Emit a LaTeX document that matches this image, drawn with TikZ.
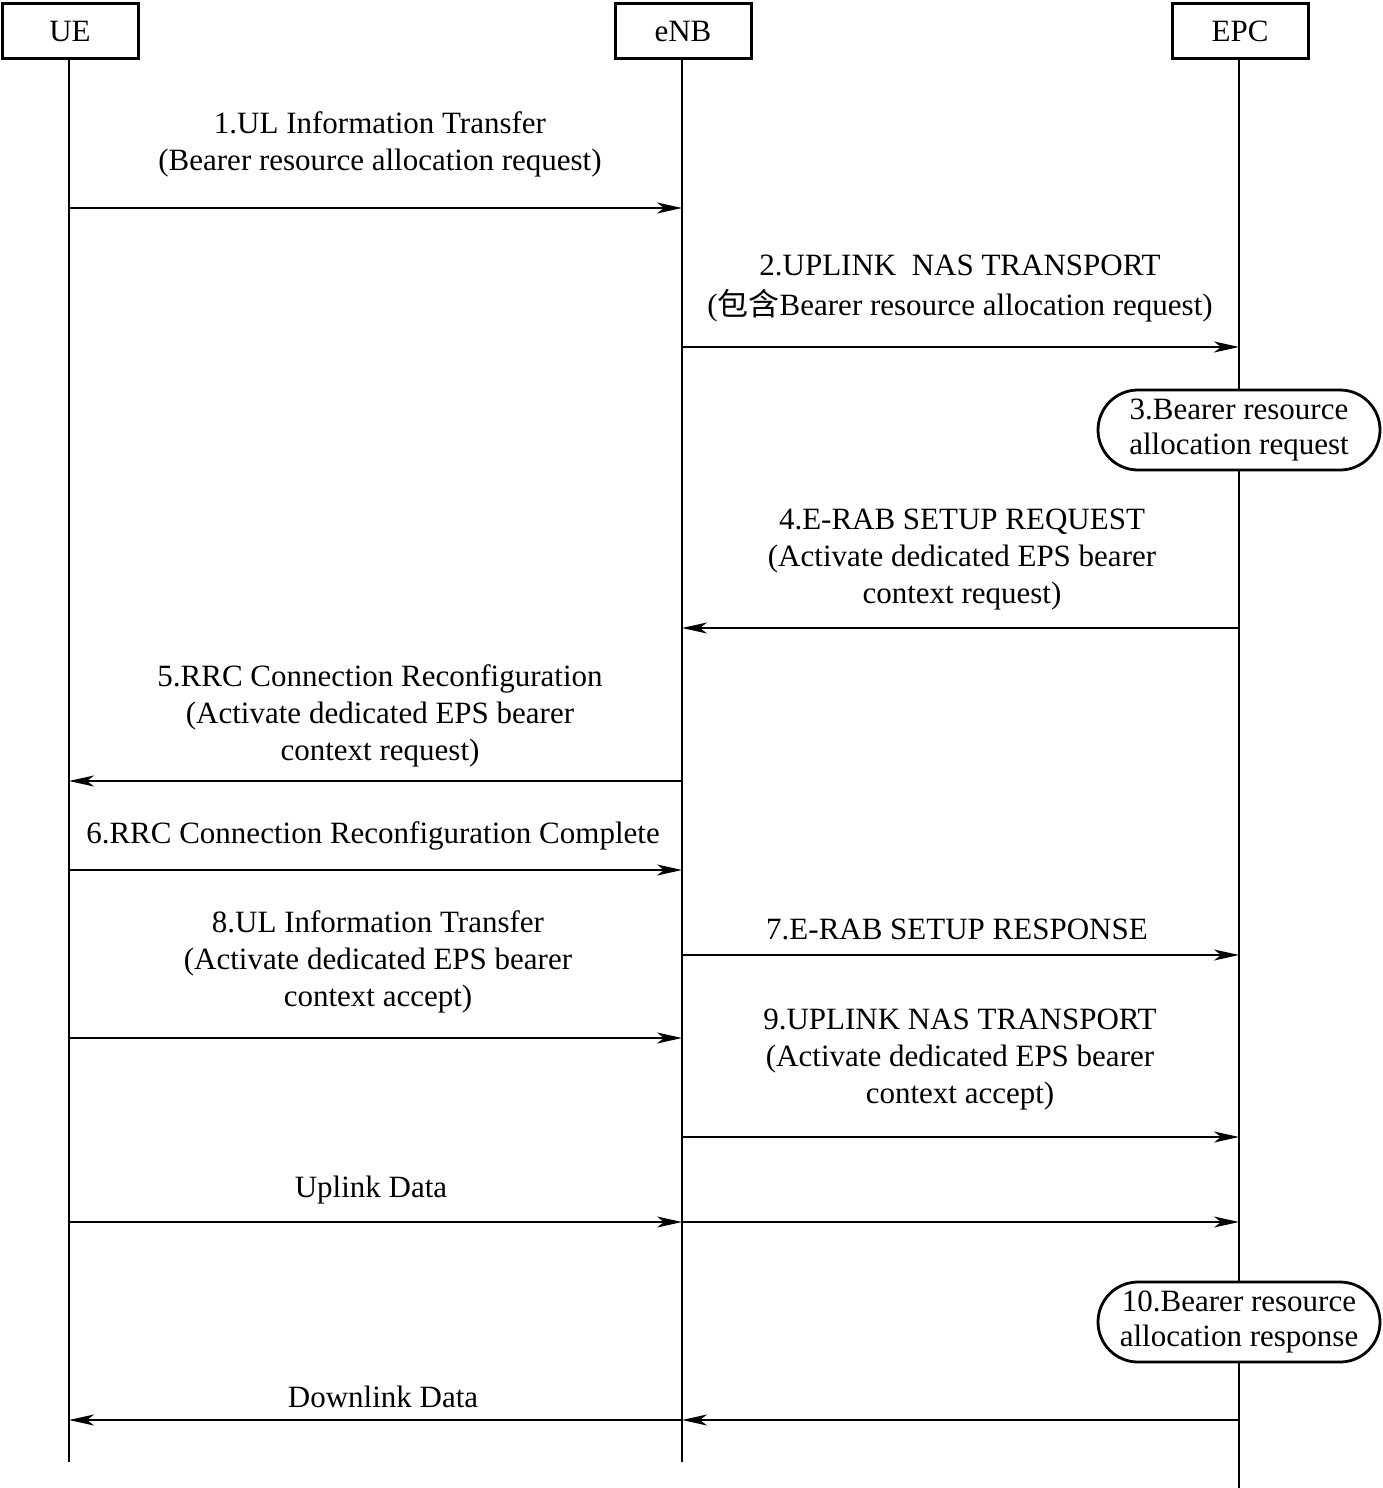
\documentclass[tikz,border=0pt]{standalone}
\usepackage{fontspec}
\setmainfont{Liberation Serif}
\newfontfamily\cjk{Noto Sans CJK SC}
\usetikzlibrary{arrows.meta,shapes.misc}
\tikzset{
  lbl/.style={font=\fontsize{31}{37}\selectfont, align=center, inner sep=0pt},
  party/.style={draw, line width=3pt, minimum width=136pt, minimum height=55pt, font=\fontsize{31}{37}\selectfont, inner sep=0pt},
  life/.style={line width=1.8pt},
  msg/.style={line width=1.8pt, -{Stealth[length=25pt,width=11pt,inset=7pt]}},
  actbox/.style={draw, rounded rectangle, line width=2.8pt, fill=white, minimum width=282pt, minimum height=80pt, align=center, font=\fontsize{31}{35}\selectfont, inner sep=0pt}
}
\begin{document}
\begin{tikzpicture}[x=1pt,y=-1pt]
\useasboundingbox (0,0) rectangle (1382,1488);
% participants
\node[party] (ue)  at (70,31.5)  {UE};
\node[party] (enb) at (683,31.5) {eNB};
\node[party] (epc) at (1240,31.5) {EPC};
% lifeline ends
\coordinate (ueend)  at (69,1462);
\coordinate (enbend) at (682,1462);
\coordinate (epcend) at (1239,1488);
\draw[life] (ue.south -| ueend) -- (ueend);
\draw[life] (enb.south -| enbend) -- (enbend);
\draw[life] (epc.south -| epcend) -- (epcend);
% message endpoints
\foreach \n/\y in {1/208,2/347,4/628,5/781,6/870,7/955,8/1038,9/1137,u/1222,d/1420}{
  \coordinate (ue\n) at (69,\y);
  \coordinate (enb\n) at (682,\y);
  \coordinate (epc\n) at (1239,\y);
}
% 1
\node[lbl] (l1) at (380,144.5) {1.UL Information Transfer\\(Bearer resource allocation request)};
\draw[msg] (ue1) -- (enb1);
% 2
\node[lbl] (l2) at (960,289) {2.UPLINK\ \ NAS TRANSPORT\\[3pt]({\cjk 包含}Bearer resource allocation request)};
\draw[msg] (enb2) -- (epc2);
% 3
\node[actbox] (b3) at (1239,430) {\raisebox{-2pt}{3.Bearer resource}\\\raisebox{-2pt}{allocation request}};
% 4
\node[lbl] (l4) at (962,560) {4.E-RAB SETUP REQUEST\\(Activate dedicated EPS bearer\\context request)};
\draw[msg] (epc4) -- (enb4);
% 5
\node[lbl] (l5) at (380,716) {5.RRC Connection Reconfiguration\\(Activate dedicated EPS bearer\\context request)};
\draw[msg] (enb5) -- (ue5);
% 6
\node[lbl] (l6) at (373,836) {6.RRC\ Connection\ Reconfiguration\ Complete};
\draw[msg] (ue6) -- (enb6);
% 7
\node[lbl] (l7) at (957,929) {7.E-RAB SETUP RESPONSE};
\draw[msg] (enb7) -- (epc7);
% 8
\node[lbl] (l8) at (378,962) {8.UL Information Transfer\\(Activate dedicated EPS bearer\\context accept)};
\draw[msg] (ue8) -- (enb8);
% 9
\node[lbl] (l9) at (960,1060) {9.UPLINK NAS TRANSPORT\\(Activate dedicated EPS bearer\\context accept)};
\draw[msg] (enb9) -- (epc9);
% uplink data
\node[lbl] (lu) at (371,1190) {Uplink Data};
\draw[msg] (ueu) -- (enbu);
\draw[msg] (enbu) -- (epcu);
% 10
\node[actbox] (b10) at (1239,1322) {\raisebox{-2pt}{10.Bearer resource}\\\raisebox{-2pt}{allocation response}};
% downlink data
\node[lbl] (ld) at (383,1397) {Downlink Data};
\draw[msg] (epcd) -- (enbd);
\draw[msg] (enbd) -- (ued);
\end{tikzpicture}
\end{document}
